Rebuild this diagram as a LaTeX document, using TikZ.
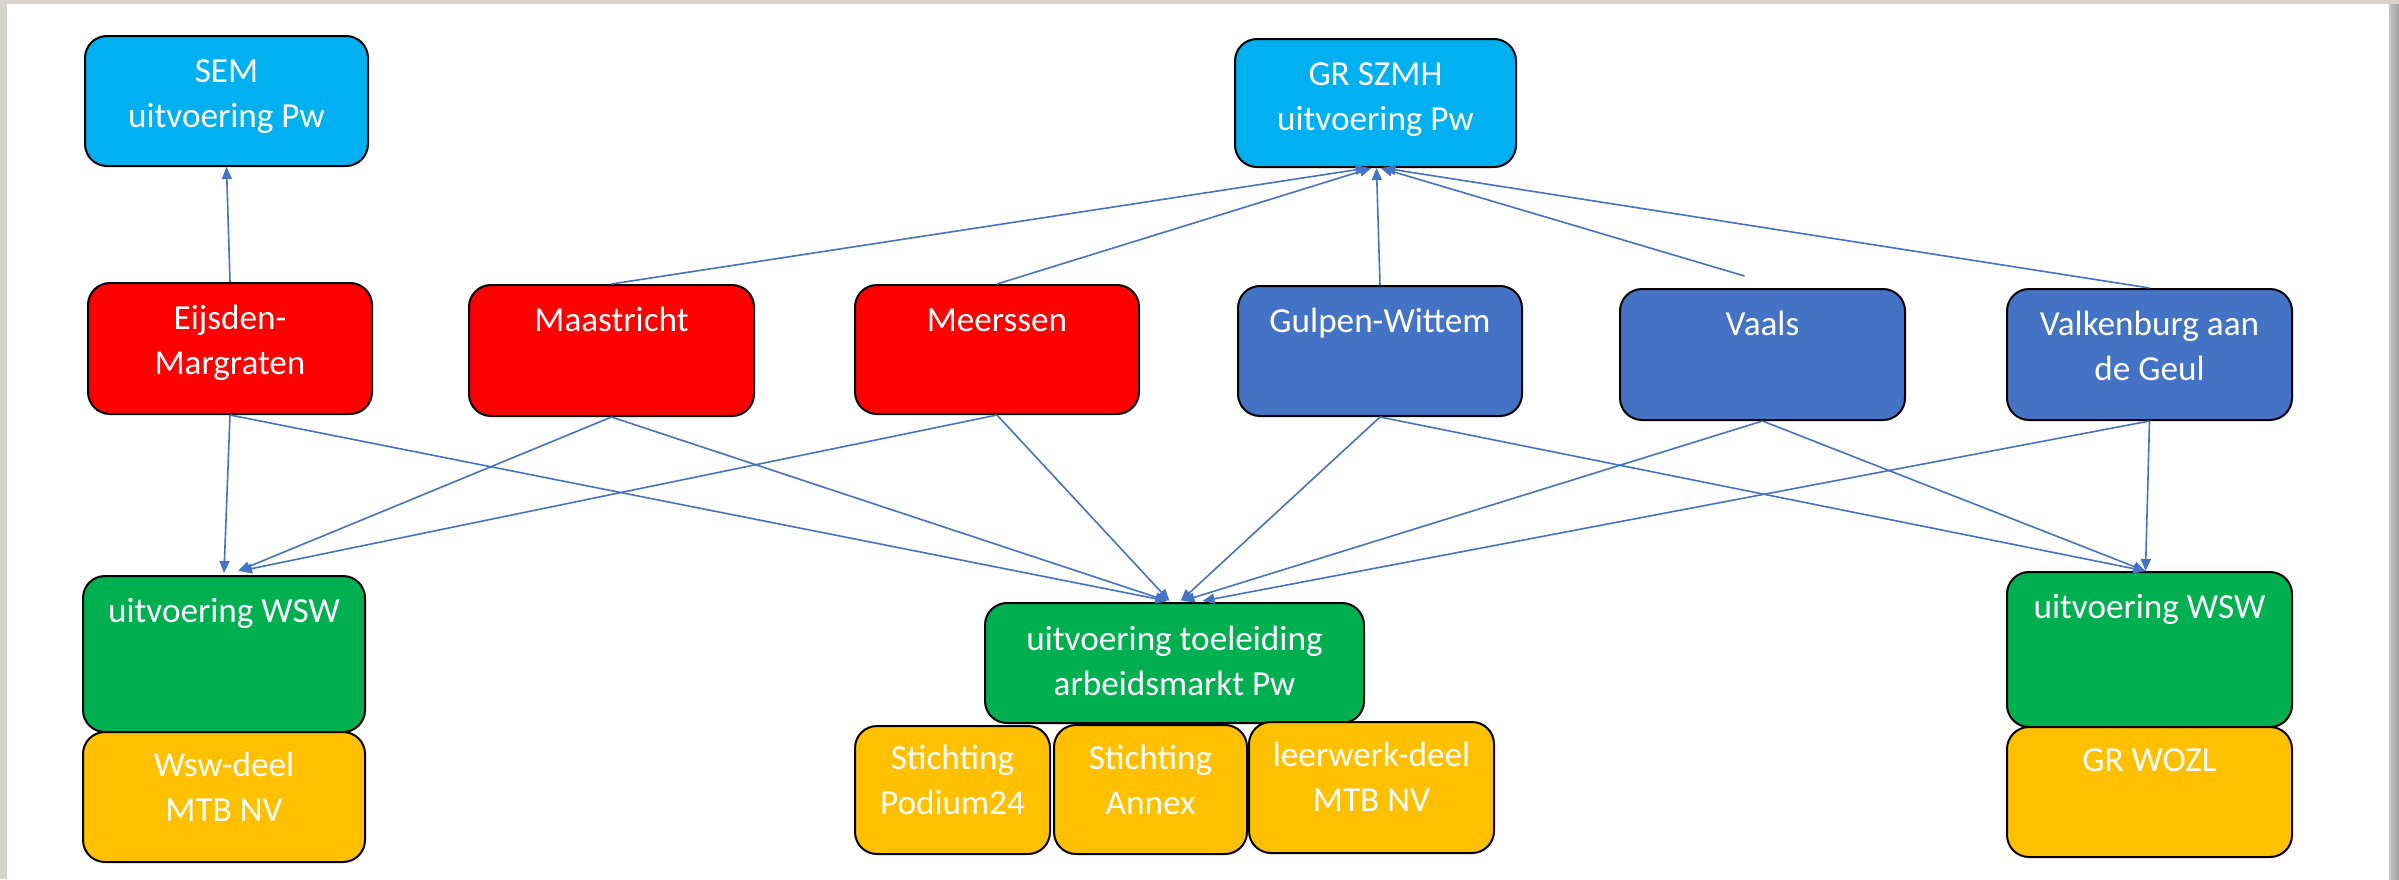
\documentclass[tikz,border=0pt]{standalone}
\usepackage{fontspec}
\setmainfont{Carlito}
\usetikzlibrary{arrows.meta,calc}
\definecolor{cyanbox}{HTML}{00B0F0}
\definecolor{redbox}{HTML}{FF0000}
\definecolor{bluebox}{HTML}{4472C4}
\definecolor{greenbox}{HTML}{00B050}
\definecolor{goldbox}{HTML}{FFC000}
\definecolor{conn}{HTML}{4472C4}
\definecolor{framegray}{HTML}{D6D3CE}
\begin{document}
\begin{tikzpicture}[x=0.5pt,y=-0.5pt,
  box/.style={draw=black, line width=1pt, rounded corners=11pt, inner sep=0pt},
  txt/.style={text=white, font=\fontsize{17.6}{22.5}\selectfont, align=center, anchor=base, inner sep=0pt},
  arr/.style={draw=conn, line width=0.8pt, -{Triangle[length=6pt,width=5pt]}}]
% page frame
\useasboundingbox (0,0) rectangle (2399,879);
\fill[framegray] (0,0) rectangle (2399,879);
\fill[white] (7,4) rectangle (2389,879);
\shade[left color=gray!45, right color=gray!75] (2389,4) rectangle (2399,879);
% top row
\node[box, fill=cyanbox, minimum width=141.5pt, minimum height=65pt] (sem) at (226.5,101) {};
\node[box, fill=cyanbox, minimum width=140.5pt, minimum height=64pt] (sz) at (1375.5,103) {};
% municipalities
\node[box, fill=redbox, minimum width=142pt, minimum height=65.5pt] (eij) at (230,348.5) {};
\node[box, fill=redbox, minimum width=142.5pt, minimum height=65.5pt] (maa) at (611.5,350.5) {};
\node[box, fill=redbox, minimum width=142pt, minimum height=64.5pt] (mee) at (997,349.5) {};
\node[box, fill=bluebox, minimum width=142pt, minimum height=65pt] (gul) at (1380,351) {};
\node[box, fill=bluebox, minimum width=142.5pt, minimum height=65.5pt] (vaa) at (1762.5,354.5) {};
\node[box, fill=bluebox, minimum width=142.5pt, minimum height=65.5pt] (val) at (2149.5,354.5) {};
% bottom row
\node[box, fill=greenbox, minimum width=141pt, minimum height=78pt] (wswl) at (224,654) {};
\node[box, fill=goldbox, minimum width=141pt, minimum height=65pt] (mtb) at (224,797) {};
\node[box, fill=greenbox, minimum width=189.5pt, minimum height=60pt] (toe) at (1174.5,663) {};
\node[box, fill=goldbox, minimum width=97.5pt, minimum height=64pt] (pod) at (952.5,790) {};
\node[box, fill=goldbox, minimum width=96.5pt, minimum height=64.5pt] (ann) at (1150.5,789.5) {};
\node[box, fill=goldbox, minimum width=122.5pt, minimum height=65.5pt] (lee) at (1371.5,787.5) {};
\node[box, fill=greenbox, minimum width=142.5pt, minimum height=77.5pt] (wswr) at (2149.5,649.5) {};
\node[box, fill=goldbox, minimum width=142.5pt, minimum height=65pt] (woz) at (2149.5,792) {};
% texts (base anchor = last line's baseline)
\node[txt] (semT) at ($(sem.north)+(0,92)$) {SEM\\uitvoering Pw};
\node[txt] (szT) at ($(sz.north)+(0,92)$) {GR SZMH\\uitvoering Pw};
\node[txt] (eijT) at ($(eij.north)+(0,92)$) {Eijsden-\\Margraten};
\node[txt] (maaT) at ($(maa.north)+(0,47)$) {Maastricht};
\node[txt] (meeT) at ($(mee.north)+(0,47)$) {Meerssen};
\node[txt] (gulT) at ($(gul.north)+(0,47)$) {Gulpen-Wittem};
\node[txt] (vaaT) at ($(vaa.north)+(0,47)$) {Vaals};
\node[txt] (valT) at ($(val.north)+(0,92)$) {Valkenburg aan\\de Geul};
\node[txt] (wswlT) at ($(wswl.north)+(0,47)$) {uitvoering WSW};
\node[txt] (mtbT) at ($(mtb.north)+(0,90)$) {Wsw-deel\\MTB NV};
\node[txt] (toeT) at ($(toe.north)+(0,93)$) {uitvoering toeleiding\\arbeidsmarkt Pw};
\node[txt] (podT) at ($(pod.north)+(0,89)$) {Stichting\\Podium24};
\node[txt] (annT) at ($(ann.north)+(0,90)$) {Stichting\\Annex};
\node[txt] (leeT) at ($(lee.north)+(0,90)$) {leerwerk-deel\\MTB NV};
\node[txt] (wswrT) at ($(wswr.north)+(0,47)$) {uitvoering WSW};
\node[txt] (wozT) at ($(woz.north)+(0,45)$) {GR WOZL};
% connectors up
\coordinate (vaagap) at ($(vaa.north)+(-18,-12)$);
\draw[arr] (eij.north) -- (sem.south);
\draw[arr] (maa.north) -- ($(sz.south)+(-8,0)$);
\draw[arr] (mee.north) -- ($(sz.south)+(-4,0)$);
\draw[arr] (gul.north) -- ($(sz.south)+(1,0)$);
\draw[arr] (vaagap) -- ($(sz.south)+(5,0)$);
\draw[arr] (val.north) -- ($(sz.south)+(8,0)$);
% connectors down
\draw[arr] (eij.south) -- ($(wswl.north)+(0,-2)$);
\draw[arr] (maa.south) -- ($(wswl.north)+(14,-4)$);
\draw[arr] (mee.south) -- ($(wswl.north)+(16,-4)$);
\draw[arr] (eij.south) -- ($(toe.north)+(-7,-1)$);
\draw[arr] (maa.south) -- ($(toe.north)+(-7,-1)$);
\draw[arr] (mee.south) -- ($(toe.north)+(-5,-1)$);
\draw[arr] (gul.south) -- ($(toe.north)+(6,-1)$);
\draw[arr] (vaa.south) -- ($(toe.north)+(8,-1)$);
\draw[arr] (val.south) -- ($(toe.north)+(28,-1)$);
\draw[arr] (gul.south) -- ($(wswr.north)+(-4,0)$);
\draw[arr] (vaa.south) -- ($(wswr.north)+(-4,0)$);
\draw[arr] (val.south) -- ($(wswr.north)+(-4,0)$);
\end{tikzpicture}
\end{document}
